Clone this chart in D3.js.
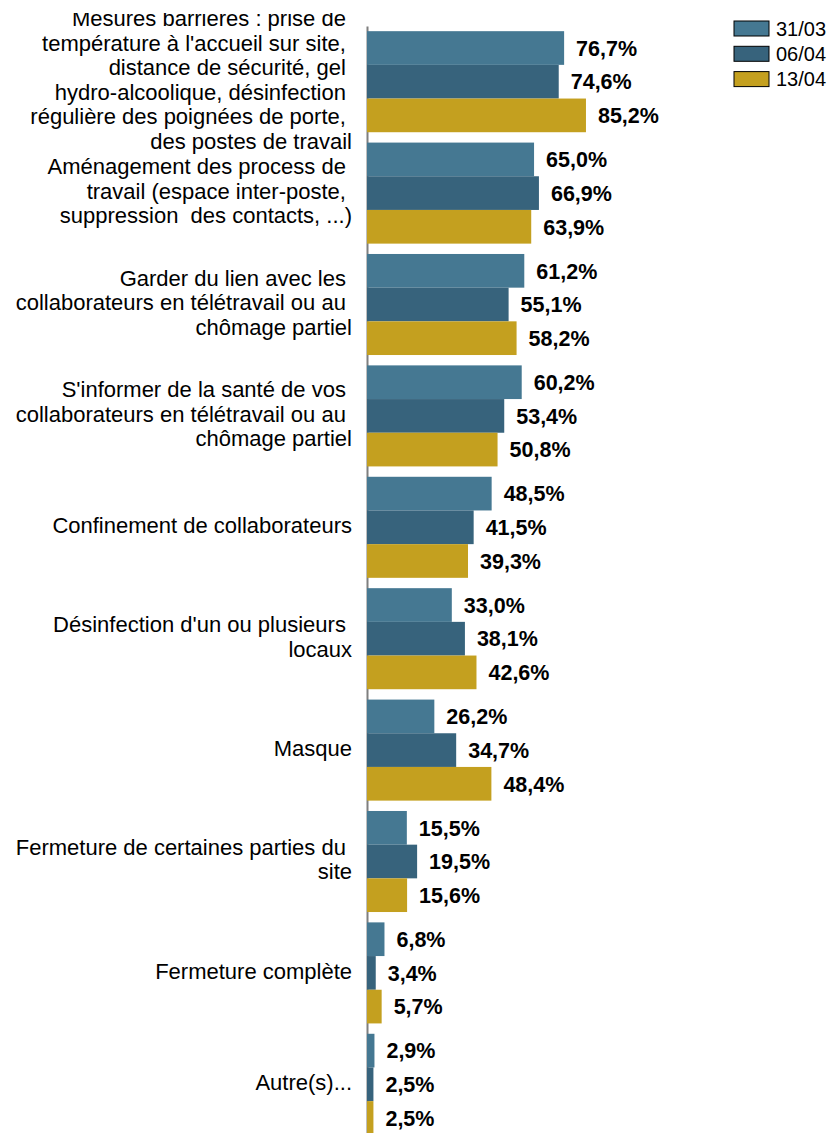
<!DOCTYPE html>
<html>
<head>
<meta charset="utf-8">
<title>Mesures prises</title>
<script src="https://d3js.org/d3.v7.min.js"></script>
<style>
  body { margin: 0; background: #fff; }
  svg text { font-family: "Liberation Sans", Arial, sans-serif; white-space: pre; }
</style>
</head>
<body>
<div id="chart"></div>
<script>
// categories (label lines) and series values, in %
var categories = [
  ["Mesures barrières : prise de ", "température à l'accueil sur site, ", "distance de sécurité, gel ", "hydro-alcoolique, désinfection ", "régulière des poignées de porte, ", "des postes de travail"],
  ["Aménagement des process de ", "travail (espace inter-poste, ", "suppression  des contacts, ...)"],
  ["Garder du lien avec les ", "collaborateurs en télétravail ou au ", "chômage partiel"],
  ["S'informer de la santé de vos ", "collaborateurs en télétravail ou au ", "chômage partiel"],
  ["Confinement de collaborateurs"],
  ["Désinfection d'un ou plusieurs ", "locaux"],
  ["Masque"],
  ["Fermeture de certaines parties du ", "site"],
  ["Fermeture complète"],
  ["Autre(s)..."]
];
var series = ["31/03", "06/04", "13/04"];
var v3103 = [76.7, 65.0, 61.2, 60.2, 48.5, 33.0, 26.2, 15.5, 6.8, 2.9];
var v0604 = [74.6, 66.9, 55.1, 53.4, 41.5, 38.1, 34.7, 19.5, 3.4, 2.5];
var v1304 = [85.2, 63.9, 58.2, 50.8, 39.3, 42.6, 48.4, 15.6, 5.7, 2.5];
var colors = ["#457892", "#37637c", "#c4a01f"];

var width = 833, height = 1133;
var values = [v3103, v0604, v1304];

var svg = d3.select("#chart").append("svg")
    .attr("width", width)
    .attr("height", height);

// labels are cut at the top of the plot area
svg.append("defs").append("clipPath").attr("id", "labelclip")
  .append("rect")
    .attr("x", 0).attr("y", 13)
    .attr("width", 367).attr("height", height);

var x = d3.scaleLinear().domain([0, 100]).range([367, 624]);

var ids = categories.map(function(d, i) { return i; });
var y = d3.scaleBand()
    .domain(ids)
    .range([26, 26 + 111.4 * 10])
    .paddingInner(0.093)
    .paddingOuter(0.0465);

var ySub = d3.scaleBand()
    .domain(series)
    .range([0, y.bandwidth()]);

var color = d3.scaleOrdinal().domain(series).range(colors);

// axis line
svg.append("g")
    .attr("transform", "translate(367,0)")
    .call(d3.axisLeft(y).tickSize(0).tickFormat(""))
    .call(function(g) {
        g.select(".domain").attr("stroke", "#7f7f7f").attr("stroke-width", 2);
    });

// bars
var groups = svg.append("g").selectAll("g")
    .data(series)
    .enter().append("g")
    .attr("fill", function(s) { return color(s); });

groups.selectAll("rect")
    .data(function(s, si) { return values[si].map(function(v, i) { return {s: s, i: i, v: v}; }); })
    .enter().append("rect")
    .attr("x", x(0))
    .attr("y", function(d) { return y(d.i) + ySub(d.s); })
    .attr("width", function(d) { return x(d.v) - x(0); })
    .attr("height", ySub.bandwidth());

// value labels
groups.selectAll("text")
    .data(function(s, si) { return values[si].map(function(v, i) { return {s: s, i: i, v: v}; }); })
    .enter().append("text")
    .attr("x", function(d) { return x(d.v) + 12; })
    .attr("y", function(d) { return y(d.i) + ySub(d.s) + ySub.bandwidth() / 2; })
    .attr("dy", "0.36em")
    .attr("fill", "#000")
    .style("font-size", "21.5px")
    .style("font-weight", "bold")
    .text(function(d) { return d3.format(".1f")(d.v).replace(".", ",") + "%"; });

// category labels
var lineH = 24.5;
var cat = svg.append("g")
    .attr("clip-path", "url(#labelclip)")
  .selectAll("text")
    .data(categories)
    .enter().append("text")
    .attr("text-anchor", "end")
    .attr("fill", "#000")
    .style("font-size", "22px")
    .attr("y", function(d, i) { return y(i) + y.bandwidth() / 2 - 2; });

cat.selectAll("tspan")
    .data(function(d) { return d.map(function(t, k) { return {t: t, k: k, n: d.length}; }); })
    .enter().append("tspan")
    .attr("x", 352)
    .attr("dy", function(d) { return d.k === 0 ? ((-(d.n - 1) / 2) * lineH + 7.7) + "px" : lineH + "px"; })
    .text(function(d) { return d.t; });

// legend
var legend = svg.append("g").selectAll("g")
    .data(series)
    .enter().append("g")
    .attr("transform", function(d, i) { return "translate(734," + (21 + i * 25.3) + ")"; });

legend.append("rect")
    .attr("width", 35)
    .attr("height", 15)
    .attr("fill", function(d) { return color(d); })
    .attr("stroke", "#000")
    .attr("stroke-width", 1);

legend.append("text")
    .attr("x", 42)
    .attr("y", 7.5)
    .attr("dy", "0.36em")
    .style("font-size", "20px")
    .text(function(d) { return d; });
</script>
</body>
</html>
